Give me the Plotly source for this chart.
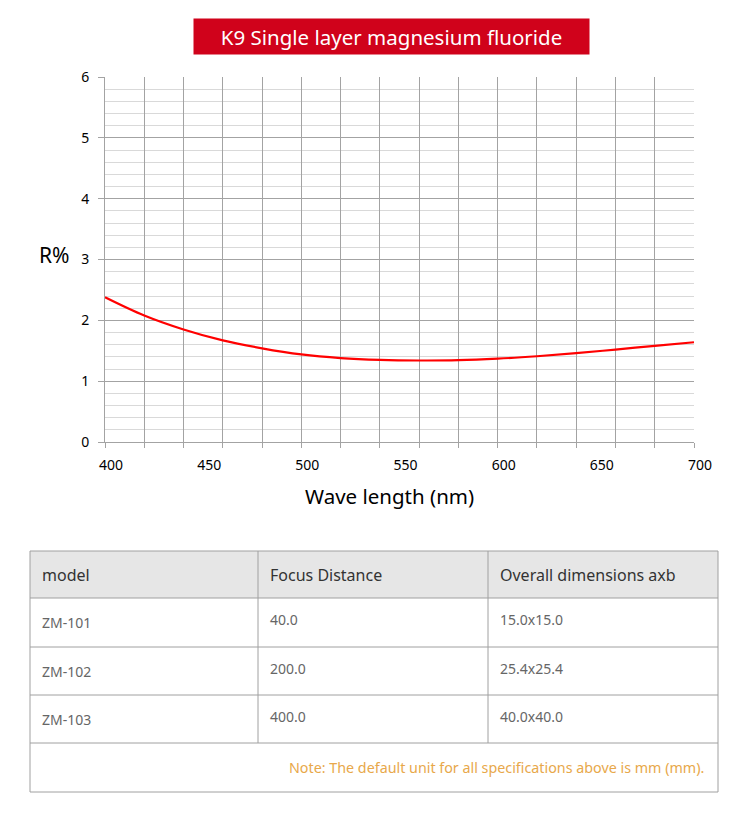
import plotly.graph_objects as go

W, H = 750, 826
OX, OY = 8, 8  # page body margin offset

# ---- data ----
wavelength = [400, 420, 440, 460, 480, 500, 520, 540, 560, 580, 600, 620, 640, 660, 680, 700]
reflect = [2.38, 2.08, 1.85, 1.67, 1.54, 1.44, 1.38, 1.35, 1.34, 1.345, 1.37, 1.41, 1.46, 1.52, 1.58, 1.64]
x_ticks = [400, 450, 500, 550, 600, 650, 700]
y_ticks = [0, 1, 2, 3, 4, 5, 6]

title_text = "K9 Single layer magnesium fluoride"
x_title = "Wave length (nm)"
y_title = "R%"

table_header = ["model", "Focus Distance", "Overall dimensions axb"]
col_model = ["ZM-101", "ZM-102", "ZM-103"]
col_focus = ["40.0", "200.0", "400.0"]
col_dims = ["15.0x15.0", "25.4x25.4", "40.0x40.0"]
note_text = "Note: The default unit for all specifications above is mm (mm)."

# table layout (pixels)
col_edges = [30, 258, 488, 718]
row_edges = [551, 598, 647, 695, 743, 792]


def px(x):
    return (x - OX) / W


def py(y):
    return 1 - (y - OY) / H


FONT = "Noto Sans"
GRID = "#A3A3A3"
MINOR = "#D9D9D9"
TLINE = "#A0A0A0"

fig = go.Figure()

fig.add_trace(go.Scatter(
    x=wavelength, y=reflect, mode="lines",
    line=dict(color="#FF0000", width=2.2, shape="spline", smoothing=1.0),
    hoverinfo="skip", showlegend=False,
))

# invisible trace on overlay axis to activate it
fig.add_trace(go.Scatter(
    x=[wavelength[0], wavelength[-1]], y=[reflect[0], reflect[-1]], mode="markers",
    marker=dict(opacity=0), xaxis="x2", yaxis="y", hoverinfo="skip", showlegend=False,
))

shapes = []
annotations = []

# header background
shapes.append(dict(type="rect", xref="paper", yref="paper",
                   x0=px(col_edges[0]), x1=px(col_edges[-1]),
                   y0=py(row_edges[1]), y1=py(row_edges[0]),
                   fillcolor="#E6E6E6", line=dict(width=0), layer="below"))
# horizontal lines
for r in row_edges:
    shapes.append(dict(type="line", xref="paper", yref="paper",
                       x0=px(col_edges[0]), x1=px(col_edges[-1]), y0=py(r), y1=py(r),
                       line=dict(color=TLINE, width=1)))
# outer verticals
for c in (col_edges[0], col_edges[-1]):
    shapes.append(dict(type="line", xref="paper", yref="paper",
                       x0=px(c), x1=px(c), y0=py(row_edges[-1]), y1=py(row_edges[0]),
                       line=dict(color=TLINE, width=1)))
# inner verticals (not through note row)
for c in col_edges[1:-1]:
    shapes.append(dict(type="line", xref="paper", yref="paper",
                       x0=px(c), x1=px(c), y0=py(row_edges[-2]), y1=py(row_edges[0]),
                       line=dict(color=TLINE, width=1)))

# header texts
for i, h in enumerate(table_header):
    annotations.append(dict(text=h, xref="paper", yref="paper",
                            x=px(col_edges[i] + 10), y=py((row_edges[0] + row_edges[1]) / 2),
                            xanchor="left", yanchor="middle", showarrow=False,
                            font=dict(family=FONT, size=16, color="#333333")))
# body texts
columns = [col_model, col_focus, col_dims]
for ci, col in enumerate(columns):
    for ri, val in enumerate(col):
        yc = (row_edges[ri + 1] + row_edges[ri + 2]) / 2 - (0 if ci == 0 else 3)
        annotations.append(dict(text=val, xref="paper", yref="paper",
                                x=px(col_edges[ci] + 10), y=py(yc),
                                xanchor="left", yanchor="middle", showarrow=False,
                                font=dict(family=FONT, size=14, color="#666666")))
# note
annotations.append(dict(text=note_text, xref="paper", yref="paper",
                        x=px(col_edges[-1] - 12), y=py((row_edges[-2] + row_edges[-1]) / 2),
                        xanchor="right", yanchor="middle", showarrow=False,
                        font=dict(family=FONT, size=14.3, color="#E8A84A")))

annotations += [
    dict(text=title_text, xref="paper", yref="paper", x=px(391.5), y=py(36.5),
         xanchor="center", yanchor="middle", showarrow=False,
         bgcolor="#D0021B", width=395, height=35, borderpad=0,
         font=dict(family=FONT, size=20.5, color="white")),
    dict(text=y_title, xref="paper", yref="paper", x=px(54), y=py(255),
         xanchor="center", yanchor="middle", showarrow=False,
         font=dict(family=FONT, size=21, color="#000000")),
    dict(text=x_title, xref="paper", yref="paper", x=px(389), y=py(496),
         xanchor="center", yanchor="middle", showarrow=False,
         font=dict(family=FONT, size=20.5, color="#000000")),
]

fig.update_layout(
    width=W, height=H,
    margin=dict(l=0, r=0, t=0, b=0, autoexpand=False),
    paper_bgcolor="white", plot_bgcolor="white",
    showlegend=False,
    xaxis=dict(
        domain=[px(105), px(694)], range=[400, 700],
        tickvals=x_ticks, showgrid=False, zeroline=False,
        ticks="", showline=True, linecolor=GRID, linewidth=1,
        tickfont=dict(family=FONT, size=14, color="#000000"),
        ticklabelstandoff=10, ticklabelshift=6,
        fixedrange=True,
    ),
    xaxis2=dict(
        overlaying="x", anchor="y", range=[400, 700], dtick=20, tick0=400,
        showgrid=True, gridcolor=GRID, gridwidth=1, zeroline=False,
        showticklabels=False, ticks="outside", ticklen=5, tickcolor=GRID,
        showline=False, side="bottom", fixedrange=True,
    ),
    yaxis=dict(
        domain=[py(442), py(77)], range=[0, 6],
        tickvals=y_ticks, showgrid=True, gridcolor=GRID, gridwidth=1,
        minor=dict(dtick=0.2, showgrid=True, gridcolor=MINOR, gridwidth=1, ticks=""),
        zeroline=False, ticks="outside", ticklen=6, tickcolor=GRID,
        showline=True, linecolor=GRID, linewidth=1,
        tickfont=dict(family=FONT, size=14, color="#000000"),
        ticklabelstandoff=6,
        fixedrange=True,
    ),
    shapes=shapes,
    annotations=annotations,
)

fig.write_html("out.html")
